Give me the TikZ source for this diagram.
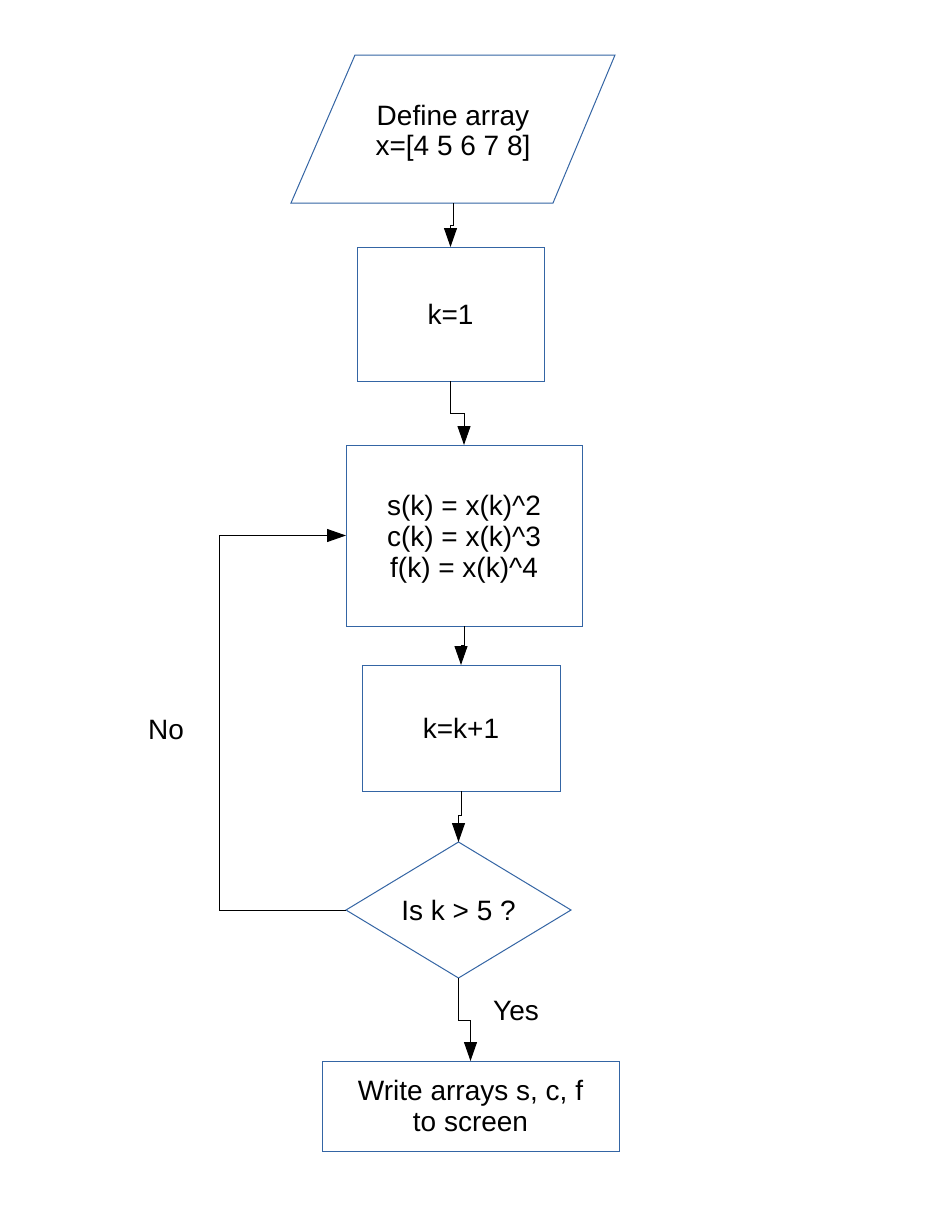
\documentclass[tikz,border=0pt]{standalone}
\usepackage{fontspec}
\setmainfont{Liberation Sans}
\usetikzlibrary{arrows.meta,shapes.geometric}
\definecolor{shapeblue}{HTML}{3465A4}
\newcommand{\downshift}{\rule{0pt}{28pt}}
\begin{document}
\begin{tikzpicture}[x=1pt,y=-1pt,
  every node/.style={font=\fontsize{28}{31}\selectfont, align=center, inner sep=0pt, outer sep=0pt},
  boxnode/.style={draw=shapeblue, line width=1pt, rectangle},
  decnode/.style={draw=shapeblue, line width=1pt, diamond, aspect=1.65, minimum width=225pt, minimum height=136pt},
  conn/.style={draw=black, line width=1pt, -{Triangle[length=19pt,width=13pt]}}]
\useasboundingbox (0,0) rectangle (935,1210);
\fill[white] (0,0) rectangle (935,1210);
% input parallelogram
\draw[shapeblue, line width=1pt] (355,55) -- (615,55) -- (553,203) -- (291,203) -- cycle;
\node[minimum width=200pt, minimum height=148pt, font=\fontsize{28}{30}\selectfont] (input) at (453,129) {\downshift Define array\\x=[4 5 6 7 8]};
\node[boxnode, minimum width=187pt, minimum height=134pt] (k1) at (450.5,314) {k=1};
\node[boxnode, minimum width=236pt, minimum height=181pt] (calc) at (464,535.5) {\downshift s(k) = x(k)\^{}2\\c(k) = x(k)\^{}3\\f(k) = x(k)\^{}4};
\node[boxnode, minimum width=198pt, minimum height=126pt] (inc) at (461,728) {k=k+1};
\node[decnode] (dec) at (458.5,910) {Is k > 5 ?};
\node[boxnode, minimum width=297pt, minimum height=90pt] (out) at (470.5,1106) {Write arrays s, c, f\\ to screen};
\node (no) at (166,730) {No};
\node (yes) at (516,1011) {Yes};
% connectors
\draw[conn] (input.south) -- ++(0,22) -| (k1.north);
\draw[conn] (k1.south) -- ++(0,32) -| (calc.north);
\draw[conn] (calc.south) -- ++(0,19) -| (inc.north);
\draw[conn] (inc.south) -- ++(0,24) -| (dec.north);
\draw[conn] (dec.west) -- ++(-127,0) |- (calc.west);
\draw[conn] (dec.south) -- ++(0,42) -| (out.north);
\end{tikzpicture}
\end{document}
